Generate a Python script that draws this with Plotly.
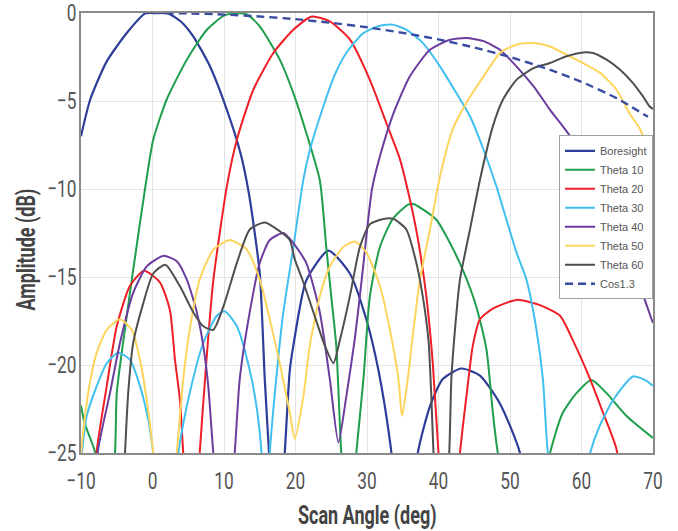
import plotly.graph_objects as go

# Measured beam patterns, amplitude in dB versus scan angle in degrees
boresight_x = [-10, -8.7, -6.4, -3.6, -1.0, 0.6, 2.2, 4.0, 5.7, 8.0, 10.4, 12.3, 13.5, 15.0, 15.7, 16.3, 17.4,
               18.5, 19.2, 19.7, 21.5, 24.6, 27.6, 29.9, 31.6, 33.3, 35.2,
               37.1, 38.8, 40.6, 43.2, 45.8, 48.6, 51.4, 53]
boresight_y = [-7.0, -4.9, -2.75, -1.14, -0.02, 0.0, -0.02, -0.5, -1.33, -3.0, -5.5, -7.95, -10.3, -14.8, -20.8, -25, -32,
               -25, -20.3, -18.9, -15.2, -13.5, -14.8, -17.4, -20.3, -24.6, -32,
               -25, -22.35, -20.8, -20.2, -20.6, -22.2, -25, -30]

theta10_x = [-10, -9.5, -8.0, -6.8, -5.25, -5.0, -3.8, -2.7, -1.05, 0.1, 2.0, 4.8, 7.6, 10.0, 11.8, 13.3, 15.0, 17.8,
             19.7, 21.5, 23.4, 24.3, 25.0, 25.7, 26.4, 27.4, 28.5, 29.5, 30.4, 31.8, 33.6, 35.7, 36.5, 39.7, 41.6,
             43.4, 45.3, 46.7, 47.6, 48.3, 52, 55.6, 57.4, 59.3, 61.4, 63.5, 66.3, 70]
theta10_y = [-22.3, -23.3, -25, -30, -25, -21.6, -17.8, -14.6, -10.0, -7.2, -4.9, -2.65, -0.95, -0.15, 0.0, -0.1, -0.76, -2.65,
             -4.55, -6.8, -9.5, -13.3, -16.1, -18.9, -25, -30, -25, -20.8, -16.1, -13.3, -11.7, -10.9, -10.85, -11.75, -13.07,
             -14.6, -16.7, -19.1, -22.7, -25, -32, -25, -22.7, -21.6, -20.85, -21.6, -22.9, -24.15]

theta20_x = [-8.5, -7.8, -6.4, -5.0, -3.15, -1.2, 1.04, 2.44, 3.14, 3.84, 4.3, 5.5, 6.6, 7.55, 8.5, 10.4, 11.8, 14.1,
             16.9, 19.7, 22.3, 24.8, 27.6, 30.4, 32.7, 34.6, 36.0, 37.1, 38.3, 39.2, 40.0, 41.5, 43.0, 43.9, 44.8,
             45.8, 47.6, 50.9, 54.2, 57.0, 58.8, 61.2, 63.0, 64.9, 66]
theta20_y = [-30, -24.9, -21.2, -17.8, -15.5, -14.65, -15.3, -16.9, -19.7, -22.0, -25, -32, -25, -19.7, -15.2, -9.85, -7.2, -4.36,
             -2.27, -0.95, -0.2, -0.48, -1.5, -3.8, -6.25, -8.3, -10.6, -12.8, -16.1, -19.9, -25, -32, -25, -21.8, -18.9,
             -17.4, -16.8, -16.3, -16.6, -17.2, -18.6, -20.8, -22.7, -24.8, -30]

theta30_x = [-10, -9.2, -7.8, -6.4, -4.8, -3.15, -1.75, -0.6, 0.1, 1.8, 3.6, 5.2, 7.1, 9.0, 10.1, 11.8, 13.6, 14.6,
             15.25, 15.8, 16.4, 17.3, 18.3, 19.7, 21.1, 22.0, 23.9, 25.5, 27.1, 29.5, 31.8, 33.6, 35.5, 37.8, 40.2,
             42.5, 44.4, 46.3, 48.1, 49.5, 50.9, 52.3, 53.7, 54.6, 55.3, 58, 61.2, 62.5, 64.4, 67.2, 69.1, 70]
theta30_y = [-25.5, -22.9, -21.2, -19.9, -19.3, -19.7, -21.2, -23.1, -25, -32, -25, -21.6, -18.75, -17.2, -16.95, -17.8, -20.3, -22.5,
             -25, -30, -25, -20.8, -17.0, -13.3, -9.47, -7.8, -5.3, -3.5, -2.27, -1.14, -0.72, -0.66, -0.95, -1.7, -3.03,
             -4.55, -5.87, -7.77, -9.85, -11.74, -13.6, -15.15, -18.0, -20.8, -25, -32, -25, -23.5, -22.0, -20.65, -20.9, -21.2]

theta40_x = [-8.5, -7.6, -5.95, -4.55, -2.7, -0.8, 1.5, 3.4, 4.8, 6.2, 7.1, 7.8, 8.5, 10.0, 11.5, 12.2, 13.6, 15.0,
             16.4, 18.3, 19.7, 21.5, 23.4, 24.8, 26.0, 27.1, 28.3, 29.3, 30.7, 31.8, 33.7, 36.0, 38.8, 41.6, 43.9,
             46.3, 48.6, 50.9, 53.3, 55.6, 58.4, 62, 65, 67.7, 69.8, 70]
theta40_y = [-30, -24.8, -21.6, -18.75, -15.9, -14.4, -13.8, -14.1, -15.15, -17.0, -18.9, -21.2, -25, -32, -25, -20.8, -17.0, -14.2,
             -12.9, -12.5, -13.07, -14.2, -17.0, -20.8, -24.4, -21.8, -18.5, -15.0, -10.0, -8.15, -5.7, -3.6, -2.09, -1.52, -1.42,
             -1.6, -2.09, -3.03, -4.17, -5.5, -7.0, -10.0, -12.7, -15.0, -17.4, -17.6]

theta50_x = [-10, -9.9, -9.0, -7.8, -6.4, -4.55, -2.9, -1.75, -0.8, 0.1, 1.8, 3.4, 4.3, 5.2, 6.6, 8.5, 10.8, 13.2,
             15.0, 16.4, 17.8, 19.2, 19.9, 21.1, 22.0, 23.4, 24.8, 26.7, 28.3, 29.9, 31.8, 33.2, 34.4, 34.9, 35.7,
             36.5, 37.4, 38.8, 40.2, 42.0, 43.9, 46.3, 48.6, 50.9, 53.3, 55.6, 57.9, 60.2, 62.6, 64.9, 66.7, 68.2,
             69.5, 70]
theta50_y = [-25.5, -24.6, -21.6, -19.3, -18.0, -17.4, -18.0, -19.7, -22.0, -25, -32, -25, -20.8, -18.0, -15.15, -13.45, -12.9, -13.45,
             -15.15, -17.4, -19.9, -22.7, -24.2, -21.8, -18.9, -16.1, -14.4, -13.3, -12.98, -13.6, -15.5, -18.0, -20.8, -22.9, -20.8,
             -18.0, -15.15, -12.3, -9.3, -6.6, -5.1, -3.6, -2.27, -1.8, -1.7, -1.9, -2.37, -2.84, -3.4, -4.36, -5.7, -6.6,
             -7.95, -8.2]

theta60_x = [-4.5, -3.85, -3.4, -2.7, -1.3, 0.1, 1.8, 3.8, 5.7, 7.1, 8.5, 9.9, 11.8, 13.6, 15.7, 17.8, 19.2, 19.9,
             21.1, 22.5, 24.1, 25.3, 26.2, 27.6, 29.0, 30.4, 32.3, 33.7, 35.5, 36.9, 37.8, 38.6, 39.0, 39.3, 40.4,
             41.5, 41.8, 42.3, 43.0, 44.4, 45.8, 47.6, 49.0, 50.9, 53.3, 55.6, 57.9, 60.2, 61.6, 63.5, 65.4, 67.2,
             68.6, 69.5, 70]
theta60_y = [-30, -25, -21.6, -18.75, -16.5, -14.8, -14.3, -15.5, -17.0, -17.8, -18.0, -16.7, -14.2, -12.3, -11.9, -12.4, -12.9, -14.0,
             -15.3, -17.0, -18.9, -19.9, -18.6, -16.1, -13.3, -12.0, -11.7, -11.7, -12.3, -14.2, -16.1, -18.6, -21.8, -25, -32,
             -25, -20.8, -18.0, -15.15, -12.3, -9.47, -6.44, -4.93, -3.8, -3.13, -2.84, -2.46, -2.24, -2.27, -2.65, -3.22, -3.98,
             -4.74, -5.3, -5.45]

cos13_x = [0, 5, 10, 15, 20, 25, 30, 35, 40, 45, 50, 55, 60, 65, 69.3]
cos13_y = [0.0, -0.02, -0.09, -0.2, -0.35, -0.56, -0.81, -1.13, -1.5, -1.96, -2.5, -3.14, -3.91, -4.86, -5.9]

x_title = "Scan Angle (deg)"
y_title = "Amplitude (dB)"

series = [
    ("Boresight", boresight_x, boresight_y, "#2e3d98", 2.2, "solid"),
    ("Theta 10", theta10_x, theta10_y, "#1f9e4b", 2.0, "solid"),
    ("Theta 20", theta20_x, theta20_y, "#ee1f26", 2.0, "solid"),
    ("Theta 30", theta30_x, theta30_y, "#40c0ee", 2.0, "solid"),
    ("Theta 40", theta40_x, theta40_y, "#6a3d9e", 2.0, "solid"),
    ("Theta 50", theta50_x, theta50_y, "#fdd45c", 2.0, "solid"),
    ("Theta 60", theta60_x, theta60_y, "#4f4f4f", 2.0, "solid"),
    ("Cos1.3", cos13_x, cos13_y, "#3a4ca2", 2.4, "8px,5px"),
]

fig = go.Figure()
for name, xs, ys, color, width, dash in series:
    fig.add_trace(go.Scatter(
        x=xs, y=ys, name=name, mode="lines",
        line=dict(color=color, width=width, dash=dash, shape="spline", smoothing=0.6),
    ))

axis_font = "Roboto, Liberation Sans, sans-serif"

# Axis titles as paper-anchored annotations
fig.add_annotation(text=f"<b>{x_title}</b>", xref="paper", yref="paper", x=0.5, y=-0.143,
                   xanchor="center", yanchor="middle", showarrow=False,
                   font=dict(family=axis_font, size=25, color="#444444"))
fig.add_annotation(text=f"<b>{y_title}</b>", xref="paper", yref="paper", x=-0.096, y=0.461,
                   xanchor="center", yanchor="middle", showarrow=False, textangle=-90,
                   font=dict(family=axis_font, size=25, color="#444444"))

fig.update_layout(
    width=678, height=531,
    margin=dict(l=81, r=25, t=13, b=78),
    paper_bgcolor="white", plot_bgcolor="white",
    showlegend=True,
    legend=dict(
        x=1.0, y=0.722, xanchor="right", yanchor="top",
        bgcolor="white", bordercolor="#a0a0a0", borderwidth=1,
        font=dict(family="Liberation Sans, Arial, sans-serif", size=11, color="#555555"),
        tracegroupgap=0, itemwidth=30,
    ),
    xaxis=dict(
        range=[-10, 70], dtick=10, tick0=-10, automargin=False,
        showgrid=True, gridcolor="#e3e3e3", gridwidth=1,
        zeroline=False, showline=True, linecolor="#8a8a8a", linewidth=1.5, mirror=True,
        ticks="", ticklabelstandoff=5, ticklabeloverflow="allow",
        tickfont=dict(family=axis_font, size=24, color="#555555"),
    ),
    yaxis=dict(
        range=[-25, 0], dtick=5, automargin=False,
        showgrid=True, gridcolor="#e3e3e3", gridwidth=1,
        zeroline=False, showline=True, linecolor="#8a8a8a", linewidth=1.5, mirror=True,
        ticks="", ticklabelstandoff=-2, ticklabeloverflow="allow",
        tickfont=dict(family=axis_font, size=24, color="#555555"),
    ),
)

# Condense axis lettering horizontally so it reads like a narrow face
condense_js = """
var gd = document.getElementById('{plot_id}');
var specs = [['g.xtick text', 0.72], ['g.ytick text', 0.72], ['text.annotation-text', 0.72]];
specs.forEach(function (s) {
  gd.querySelectorAll(s[0]).forEach(function (t) {
    var w = t.getComputedTextLength();
    t.setAttribute('textLength', (w * s[1]).toFixed(1));
    t.setAttribute('lengthAdjust', 'spacingAndGlyphs');
  });
});
"""

fig.write_html("out.html", post_script=condense_js)
